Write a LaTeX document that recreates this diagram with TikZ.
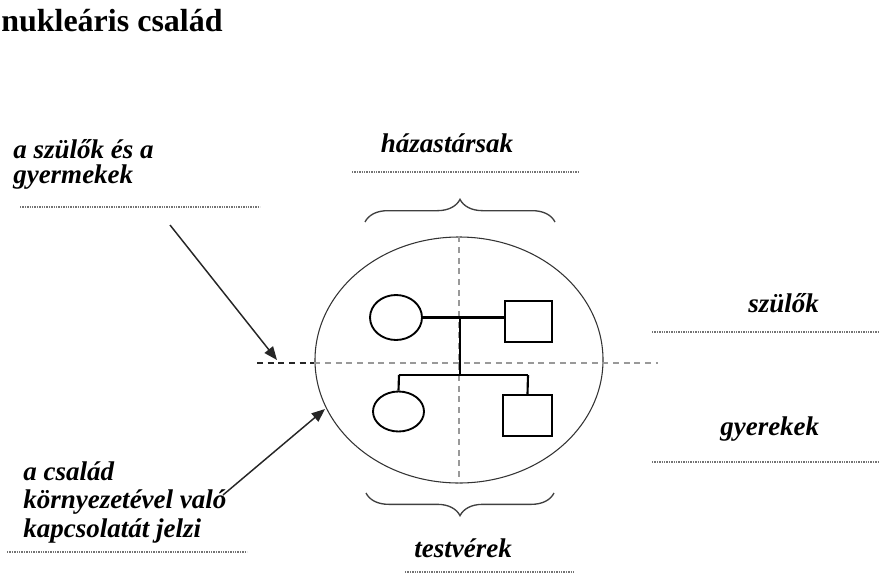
\documentclass[tikz,border=0pt]{standalone}
\usepackage{fontspec}
\setmainfont{Liberation Serif}
\usetikzlibrary{arrows.meta,decorations.pathreplacing,shapes.geometric}
\begin{document}
\begin{tikzpicture}[x=0.75pt,y=-0.75pt,
  title/.style={anchor=base west,inner sep=0pt,font=\fontsize{24}{28}\selectfont\bfseries},
  lbl/.style={anchor=base west,inner sep=0pt,font=\fontsize{20.25}{24}\selectfont\bfseries\itshape},
  clbl/.style={lbl,anchor=base},
  rule/.style={draw=black!55,line width=0.8pt,dash pattern=on 1pt off 0.8pt},
  axis/.style={draw=black!40,line width=1.3pt,dash pattern=on 4.5pt off 3.5pt},
  axisdark/.style={draw=black!85,line width=0.9pt,dash pattern=on 4.5pt off 3.5pt},
  tie/.style={draw=black,line width=1.6pt},
  person/.style={draw=black,line width=1.4pt,inner sep=0pt},
  pointer/.style={draw=black!85,line width=1.1pt,-{Triangle[length=10pt,width=8pt]}},
  bracket/.style={draw=black!75,line width=1pt,decorate,decoration={brace,amplitude=17pt}}
]
\useasboundingbox (0,0) rectangle (880,574);

% heading
\node[title] (head) at (1,32) {nukleáris család};

% left-hand labels
\node[lbl] (sg1) at (13,158) {a szülők és a};
\node[lbl] (sg2) at (13,183) {gyermekek};
\draw[rule] (20,207) -- (260,207);

\node[lbl] (env1) at (23,480) {a család};
\node[lbl] (env2) at (23,508) {környezetével való};
\node[lbl] (env3) at (23,537) {kapcsolatát jelzi};
\draw[rule] (7,552) -- (247,552);

% top and bottom labels
\node[clbl] (spouses) at (447,152) {házastársak};
\draw[rule] (352,172) -- (578,172);
\node[clbl] (sibs) at (463,557) {testvérek};
\draw[rule] (405,572) -- (575,572);

% right-hand labels
\node[lbl] (par) at (748,312) {szülők};
\draw[rule] (652,332) -- (880,332);
\node[lbl] (kids) at (720,435) {gyerekek};
\draw[rule] (652,462) -- (880,462);

% the family boundary
\node[ellipse,draw=black!80,line width=0.8pt,minimum width=288*0.75pt,minimum height=246*0.75pt,inner sep=0pt] (fam) at (459,360) {};

% generation and couple axes
\coordinate (hl) at (257,363);
\coordinate (hr) at (658,363);
\draw[axisdark] (hl) -- (fam.west |- hl);
\draw[axis] (fam.west |- hl) -- (hr);
\draw[axis] (fam.north) -- (fam.south);

% braces
\draw[bracket] (365,222) -- (555,222);
\draw[bracket] (554,493) -- (366,493);

% parents
\node[person,ellipse,minimum width=52*0.75pt,minimum height=45*0.75pt] (mother) at (396,317.5) {};
\node[person,rectangle,minimum width=47*0.75pt,minimum height=41*0.75pt] (father) at (528.5,321.5) {};
\coordinate (mid) at (460,317);
\draw[tie] (mother.east) -- (father.west |- mother.east);
\draw[tie] (mid) -- (460,375) coordinate (sibmid);
\coordinate (sl) at (399,375);
\coordinate (sr) at (528,375);
\draw[tie] (sl) -- (sr);

% children
\node[person,ellipse,minimum width=51*0.75pt,minimum height=40*0.75pt] (daughter) at (398.5,411.5) {};
\node[person,rectangle,minimum width=49*0.75pt,minimum height=41*0.75pt] (son) at (527.5,415.5) {};
\draw[tie] (sl) -- (daughter.north);
\draw[tie] (sr) -- (son.north);

% pointers
\coordinate (p1s) at (170,225);
\coordinate (p1e) at (277,360);
\draw[pointer] (p1s) -- (p1e);
\coordinate (p2s) at (223,495);
\coordinate (p2e) at (325,409);
\draw[pointer] (p2s) -- (p2e);
\end{tikzpicture}
\end{document}
